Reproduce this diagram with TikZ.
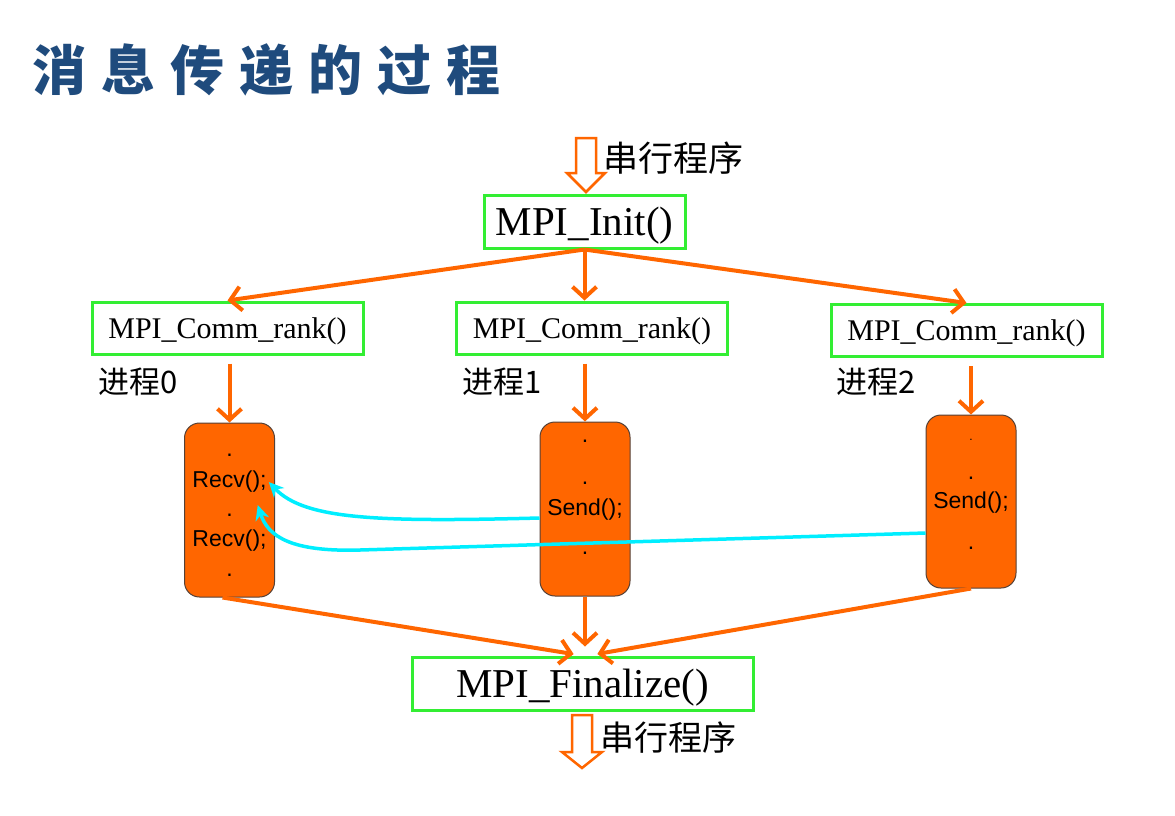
\documentclass[tikz,border=0pt]{standalone}
\usepackage{fontspec}
\setmainfont{Liberation Serif}
\setsansfont{Liberation Sans}
\newfontfamily\cjk{Noto Sans CJK SC}
\newfontfamily\cjktitle[LetterSpace=28]{Noto Sans CJK SC}
\usetikzlibrary{arrows.meta}

\definecolor{mpiorange}{RGB}{255,102,0}
\definecolor{mpigreen}{RGB}{51,238,51}
\definecolor{procedge}{RGB}{85,65,55}
\definecolor{msgcyan}{RGB}{0,238,255}
\definecolor{titleblue}{RGB}{31,75,125}

\tikzset{
  call/.style={draw=mpigreen, line width=3pt, inner sep=0pt, minimum height=53pt,
    text depth=0pt, font=\fontsize{41}{41}\selectfont},
  rankcall/.style={call, minimum width=271pt, minimum height=52pt,
    font=\fontsize{30}{30}\selectfont},
  proc/.style={draw=procedge, line width=1pt, fill=mpiorange, rounded corners=15pt,
    minimum width=90pt, minimum height=174pt},
  stmt/.style={inner sep=0pt, font=\sffamily\fontsize{23}{23}\selectfont},
  flow/.style={draw=mpiorange, line width=4pt, -{Straight Barb[length=11pt,width=24pt]}},
  msg/.style={draw=msgcyan, line width=3.5pt, -{Stealth[length=15pt,width=14pt]}},
  serial/.style={draw=mpiorange, fill=white, line width=2.5pt},
  cjklabel/.style={inner sep=0pt, anchor=west, font=\cjk\fontsize{31}{31}\selectfont},
}

\begin{document}
\begin{tikzpicture}[x=1pt, y=-1pt]
  \useasboundingbox (0,0) rectangle (1175,815);
  \fill[white] (0,0) rectangle (1175,815);

  % title
  \node[inner sep=0pt, anchor=west, text=titleblue, font=\cjktitle\bfseries\fontsize{54}{54}\selectfont]
    (title) at (32,70) {消息传递的过程};

  % serial part, top
  \begin{scope}[shift={(586,138)}]
    \draw[serial] (-10,0) -- (10,0) -- (10,35) -- (19,35) -- (0,54) -- (-19,35) -- (-10,35) -- cycle;
  \end{scope}
  \node[cjklabel, font=\cjk\fontsize{35}{35}\selectfont] (serialtop) at (603,158) {串行程序};

  \node[call, minimum width=201pt] (init) at (584.5,221.5) {MPI\_Init()};

  \node[rankcall] (rank0) at (227.5,328) {MPI\_Comm\_rank()};
  \node[rankcall] (rank1) at (592,328) {MPI\_Comm\_rank()};
  \node[rankcall] (rank2) at (966.5,330.5) {MPI\_Comm\_rank()};

  \node[cjklabel] (lab0) at ([xshift=8pt,yshift=-26pt]rank0.south west) {进程0};
  \node[cjklabel] (lab1) at ([xshift=7pt,yshift=-26pt]rank1.south west) {进程1};
  \node[cjklabel] (lab2) at ([xshift=7pt,yshift=-24pt]rank2.south west) {进程2};

  % processes
  \node[proc] (p0) at (229.5,510) {};
  \node[proc] (p1) at (585,509) {};
  \node[proc, minimum height=173pt] (p2) at (971,501.5) {};

  \foreach \y in {455,515,575}
    \node[stmt] at (p0 |- 0,\y) {.};
  \node[stmt] (recv1) at (p0 |- 0,482) {Recv();};
  \node[stmt] (recv2) at (p0 |- 0,541) {Recv();};

  \foreach \y in {441,483,553}
    \node[stmt] at (p1 |- 0,\y) {.};
  \node[stmt] (send1) at (p1 |- 0,510) {Send();};

  \foreach \y in {478,548}
    \node[stmt] at (p2 |- 0,\y) {.};
  \node[stmt, font=\sffamily\fontsize{12}{12}\selectfont] at (p2 |- 0,440) {.};
  \node[stmt] (send2) at (p2 |- 0,503) {Send();};

  % fork
  \draw[flow] (init.south) -- (rank0.north);
  \draw[flow] (init.south) -- (init.south |- rank1.north);
  \draw[flow] (init.south) -- (rank2.north);

  \foreach \r/\p in {rank0/p0,rank1/p1,rank2/p2}
    \draw[flow, shorten <=8pt] (\p.north |- \r.south) -- (\p.north);

  % messages
  \draw[msg] ([yshift=-9pt]p1.west) .. controls (380,522) and (305,520) .. ([xshift=2pt]recv1.east);
  \draw[msg] ([yshift=-31.5pt]p2.west) -- (360,550) .. controls (292,552) and (268,537) .. ([xshift=-9pt,yshift=-23pt]recv1.east);

  % join
  \node[call, minimum width=341pt] (fin) at (582.5,683.5) {MPI\_Finalize()};
  \draw[flow, shorten >=9pt] ([xshift=-7pt]p0.south) -- (fin.north);
  \draw[flow, shorten >=9pt] (p1.south) -- (p1.south |- fin.north);
  \draw[flow, shorten >=9pt] (p2.south) -- ([xshift=6pt]fin.north);

  % serial part, bottom
  \begin{scope}[shift={(582,715)}]
    \draw[serial] (-10,0) -- (10,0) -- (10,37) -- (20,37) -- (0,53) -- (-20,37) -- (-10,37) -- cycle;
  \end{scope}
  \node[cjklabel, font=\cjk\fontsize{34}{34}\selectfont] (serialbot) at (600,738) {串行程序};
\end{tikzpicture}
\end{document}
